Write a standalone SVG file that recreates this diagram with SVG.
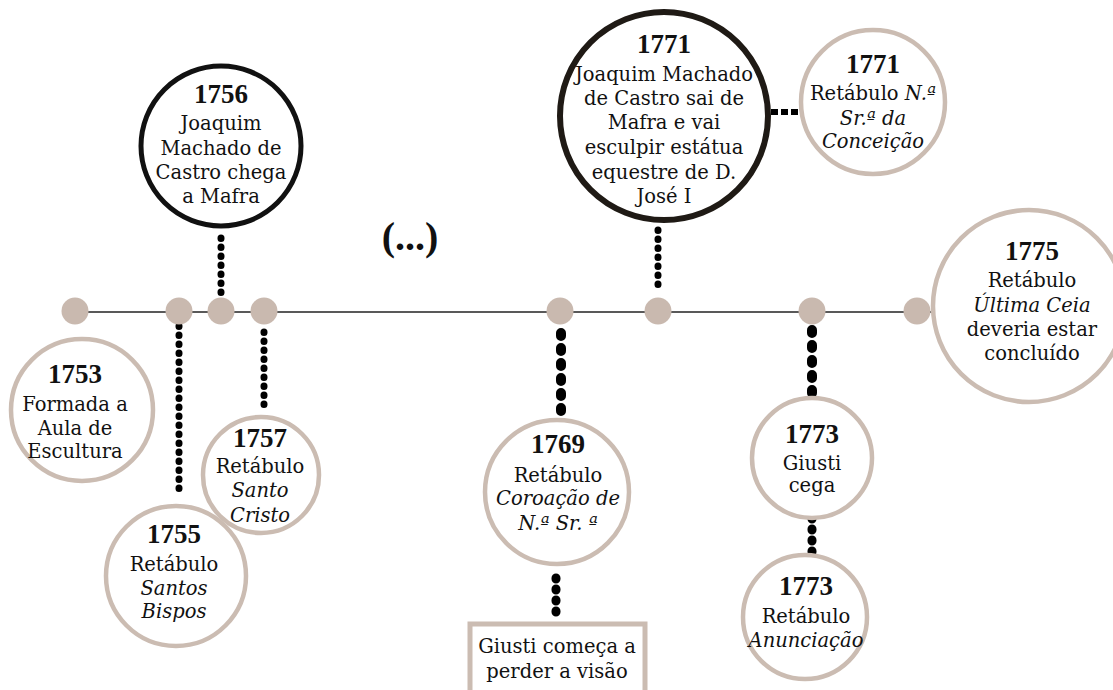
<svg xmlns="http://www.w3.org/2000/svg" width="1113" height="690" viewBox="0 0 1113 690">
<style>
.bg{fill:#ffffff}
.cb{fill:#fff;stroke:#cbbcb2;stroke-width:4.5}
.ck{fill:#fff;stroke:#111;stroke-width:5}
.ck2{fill:#fff;stroke:#1f1a15;stroke-width:6}
.dot{fill:#c9b9af}
.t{font-family:"DejaVu Serif","Liberation Serif",serif;font-size:19.5px;fill:#111;text-anchor:middle}
.y{font-family:"Liberation Serif","DejaVu Serif",serif;font-size:27px;font-weight:bold;fill:#111;text-anchor:middle}
.i{font-style:italic}
.c1{fill:none;stroke:#000;stroke-width:7;stroke-linecap:round;stroke-dasharray:0.5 8.5}
.c2{fill:none;stroke:#000;stroke-width:10;stroke-linecap:round;stroke-dasharray:3 12}
.c4{fill:none;stroke:#000;stroke-width:9;stroke-linecap:round;stroke-dasharray:1 10}
.c3{fill:none;stroke:#000;stroke-width:6;stroke-dasharray:7 3}
</style>
<rect class="bg" width="1113" height="690"/>
<g id="connectors">
<line class="c1" x1="221" y1="238" x2="221" y2="296"/>
<line class="c1" x1="658" y1="230" x2="658" y2="290"/>
<line class="c1" x1="179" y1="326" x2="179" y2="493"/>
<line class="c1" x1="264" y1="332" x2="264" y2="412"/>
<line class="c2" x1="561" y1="333" x2="561" y2="414"/>
<line class="c2" x1="812" y1="330" x2="812" y2="394"/>
<line class="c4" x1="556" y1="578" x2="556" y2="613"/>
<line class="c4" x1="812" y1="518" x2="812" y2="552"/>
<line class="c3" x1="771" y1="112" x2="801" y2="112"/>
</g>
<g id="timeline">
<line x1="62" y1="312" x2="935" y2="312" stroke="#222" stroke-width="1.5"/>
</g>
<g id="n1756">
<circle class="ck" cx="221" cy="146" r="80"/>
<text class="y" x="221" y="103">1756</text>
<text class="t" x="221" y="130">Joaquim</text>
<text class="t" x="221" y="154.5">Machado de</text>
<text class="t" x="221" y="179">Castro chega</text>
<text class="t" x="221" y="203">a Mafra</text>
</g>
<g id="n1771a">
<circle class="ck2" cx="664" cy="116" r="104"/>
<text class="y" x="664" y="53">1771</text>
<text class="t" x="664" y="81">Joaquim Machado</text>
<text class="t" x="664" y="105">de Castro sai de</text>
<text class="t" x="664" y="129">Mafra e vai</text>
<text class="t" x="664" y="154">esculpir estátua</text>
<text class="t" x="664" y="179">equestre de D.</text>
<text class="t" x="664" y="203">José I</text>
</g>
<g id="n1771b">
<circle class="cb" cx="873" cy="102" r="72"/>
<text class="y" x="873" y="73">1771</text>
<text class="t" x="873" y="100">Retábulo <tspan class="i">N.ª</tspan></text>
<text class="t i" x="873" y="125">Sr.ª da</text>
<text class="t i" x="873" y="148">Conceição</text>
</g>
<g id="n1775">
<circle class="cb" cx="1029" cy="306" r="96"/>
<text class="y" x="1032" y="260">1775</text>
<text class="t" x="1032" y="287">Retábulo</text>
<text class="t i" x="1032" y="312">Última Ceia</text>
<text class="t" x="1032" y="336">deveria estar</text>
<text class="t" x="1032" y="360">concluído</text>
</g>
<g id="n1753">
<circle class="cb" cx="82" cy="410" r="71"/>
<text class="y" x="75" y="383">1753</text>
<text class="t" x="75" y="411">Formada a</text>
<text class="t" x="75" y="435">Aula de</text>
<text class="t" x="75" y="458">Escultura</text>
</g>
<g id="n1755">
<circle class="cb" cx="176" cy="576" r="70"/>
<text class="y" x="174" y="543">1755</text>
<text class="t" x="174" y="571">Retábulo</text>
<text class="t i" x="174" y="595">Santos</text>
<text class="t i" x="174" y="618">Bispos</text>
</g>
<g id="n1757">
<circle class="cb" cx="261" cy="475" r="58"/>
<text class="y" x="260" y="447">1757</text>
<text class="t" x="260" y="473">Retábulo</text>
<text class="t i" x="260" y="497">Santo</text>
<text class="t i" x="260" y="522">Cristo</text>
</g>
<g id="n1769">
<circle class="cb" cx="557" cy="492" r="72"/>
<text class="y" x="558" y="453">1769</text>
<text class="t" x="558" y="482">Retábulo</text>
<text class="t i" x="558" y="505">Coroação de</text>
<text class="t i" x="558" y="530">N.ª Sr. ª</text>
</g>
<g id="giusti-visao">
<rect x="470" y="624" width="175" height="70" fill="#fff" stroke="#cbbcb2" stroke-width="5"/>
<text class="t" x="557" y="653">Giusti começa a</text>
<text class="t" x="557" y="678">perder a visão</text>
</g>
<g id="n1773a">
<circle class="cb" cx="812" cy="458" r="60"/>
<text class="y" x="812" y="443">1773</text>
<text class="t" x="812" y="470">Giusti</text>
<text class="t" x="812" y="492">cega</text>
</g>
<g id="n1773b">
<circle class="cb" cx="805" cy="617" r="62"/>
<text class="y" x="806" y="595">1773</text>
<text class="t" x="806" y="623">Retábulo</text>
<text class="t i" x="806" y="647">Anunciação</text>
</g>
<g id="dots">
<circle class="dot" cx="75" cy="311" r="13.5"/>
<circle class="dot" cx="179" cy="311" r="13.5"/>
<circle class="dot" cx="221" cy="311" r="13.5"/>
<circle class="dot" cx="264" cy="311" r="13.5"/>
<circle class="dot" cx="560" cy="311" r="13.5"/>
<circle class="dot" cx="658" cy="311" r="13.5"/>
<circle class="dot" cx="812" cy="311" r="13.5"/>
<circle class="dot" cx="917" cy="311" r="13.5"/>
</g>
<g id="ellipsis">
<text x="410" y="250" font-family="Liberation Serif, DejaVu Serif, serif" font-size="40" font-weight="bold" fill="#111" text-anchor="middle">(...)</text>
</g>
</svg>
